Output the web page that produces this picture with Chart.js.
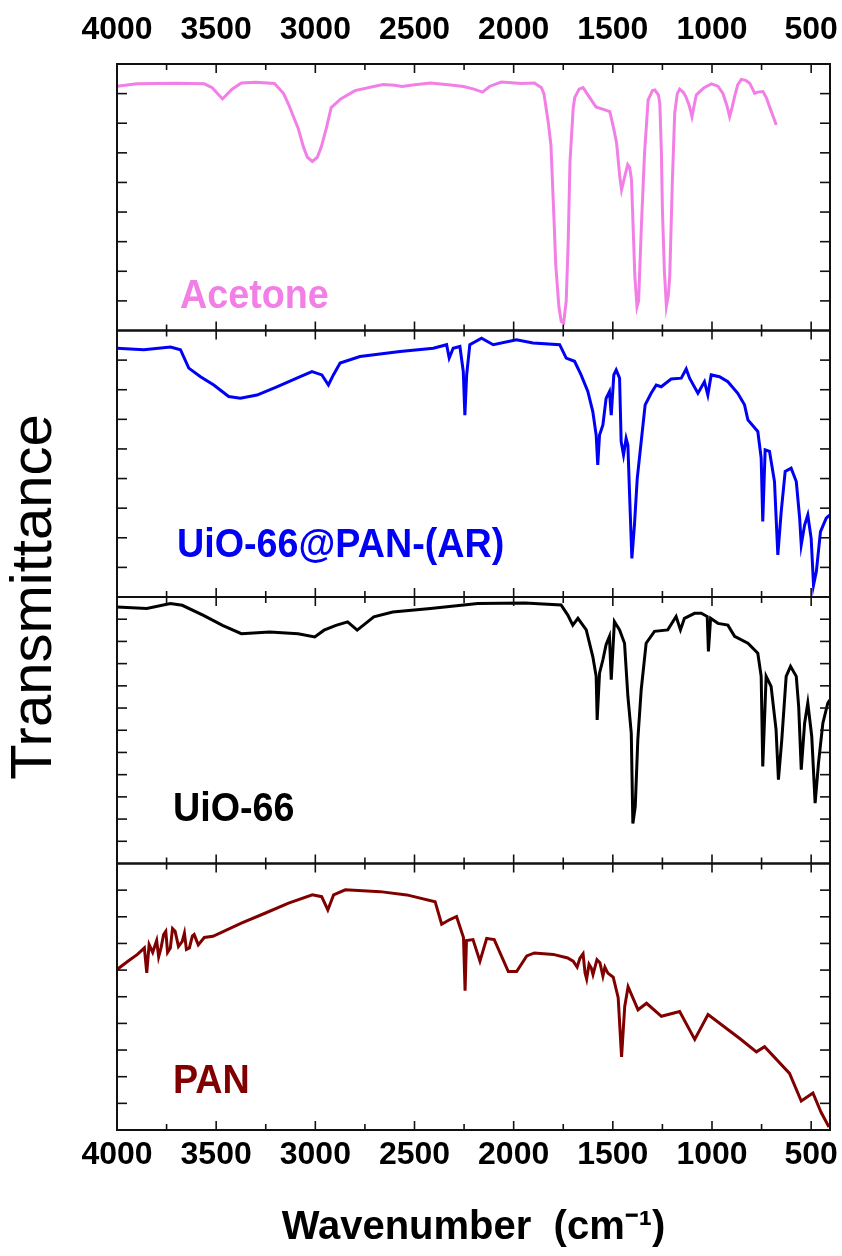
<!DOCTYPE html>
<html>
<head>
<meta charset="utf-8">
<title>FTIR spectra</title>
<script src="https://cdn.jsdelivr.net/npm/chart.js@4.4.1/dist/chart.umd.min.js"></script>
<style>
  html, body { margin: 0; padding: 0; background: #fff; }
  #wrap { width: 842px; height: 1256px; }
</style>
</head>
<body>
<div id="wrap"><canvas id="ftir" width="842" height="1256"></canvas></div>
<script>
// Axis values
const xTickLabels = [4000, 3500, 3000, 2500, 2000, 1500, 1000, 500];
const xMax = 4000;
const xMin = 405;

// Panel names, top to bottom
const panelNames = ['Acetone', 'UiO-66@PAN-(AR)', 'UiO-66', 'PAN'];

// Acetone spectrum (wavenumber, transmittance in panel units)
const wnAcetone = [
  4000, 3900, 3700, 3560, 3520, 3468, 3420, 3373, 3300, 3206,
  3160, 3135, 3100, 3087, 3060, 3040, 3015, 2990, 2970, 2944,
  2920, 2872, 2800, 2700, 2658, 2600, 2562, 2500, 2419, 2330,
  2253, 2200, 2157, 2120, 2062, 1960, 1895, 1860, 1847, 1825,
  1812, 1795, 1788, 1772, 1760, 1748, 1735, 1725, 1716, 1700,
  1692, 1670, 1650, 1620, 1585, 1540, 1515, 1495, 1481, 1465,
  1456, 1440, 1425, 1415, 1406, 1395, 1389, 1378, 1370, 1356,
  1340, 1322, 1300, 1288, 1270, 1263, 1255, 1250, 1240, 1230,
  1220, 1213, 1200, 1188, 1175, 1163, 1145, 1132, 1115, 1101,
  1090, 1079, 1040, 1003, 970, 945, 925, 911, 898, 886,
  870, 852, 830, 810, 795, 785, 770, 743, 725, 710,
  690, 676
];
const tAcetone = [
  82.5, 83.3, 83.5, 83.3, 82, 78.2, 81.5, 83.6, 83.8, 83.4,
  80, 76.4, 70.5, 68.4, 62, 58.5, 57.1, 58.5, 62, 68.4,
  75.3, 78.2, 81, 82.5, 83.1, 82.8, 82.4, 83, 83.6, 83,
  82.4, 81.5, 80.5, 82.5, 83.9, 83.4, 83.6, 82, 79.9, 70,
  62.6, 35, 22.4, 8, 3, 2.5, 10, 30, 56.9, 75,
  78.7, 81.5, 82, 79, 75.5, 74.5, 73.9, 68, 63.3, 52,
  47.5, 52, 56, 55, 50.9, 30, 18.3, 8, 10, 35.2,
  60, 77.9, 81, 81.2, 79.5, 76.7, 60, 40.8, 20, 8.2,
  12, 18.3, 50, 73.4, 80, 81.5, 80.5, 79, 76, 72.2,
  76, 79.6, 82, 83.3, 82.5, 80.1, 76, 72.2, 75.5, 79,
  83, 84.8, 84.5, 83.5, 81.5, 80.1, 80.5, 80.7, 78.5, 75.6,
  72, 69.4
];

// UiO-66@PAN-(AR) spectrum
const wnUiOPAN = [
  4000, 3865, 3730, 3680, 3638, 3579, 3512, 3437, 3378, 3294,
  3194, 3076, 3017, 2967, 2934, 2909, 2875, 2775, 2573, 2405,
  2338, 2325, 2305, 2271, 2254, 2246, 2237, 2221, 2162, 2103,
  1986, 1902, 1768, 1735, 1693, 1660, 1626, 1601, 1584, 1576,
  1567, 1550, 1534, 1517, 1508, 1495, 1483, 1466, 1458, 1446,
  1433, 1424, 1416, 1404, 1391, 1377, 1357, 1337, 1307, 1281,
  1256, 1206, 1155, 1130, 1113, 1071, 1038, 1021, 1004, 962,
  920, 870, 836, 819, 769, 752, 744, 732, 710, 685,
  668, 651, 631, 601, 575, 558, 550, 533, 517, 500,
  488, 474, 453, 424, 407
];
const tUiOPAN = [
  84, 83.5, 84.4, 83.5, 77.3, 74.4, 71.6, 67.7, 67.1, 68.2,
  71, 74.4, 76.1, 75, 71.6, 75, 79, 81.2, 82.9, 84,
  85.2, 80.7, 84, 84.6, 76.1, 61.4, 75, 85.2, 87.4, 85.2,
  86.9, 85.8, 85.2, 80.7, 79.6, 75, 69.4, 62.6, 54.7, 44.6,
  54.7, 58.1, 67.1, 69.4, 61.4, 75, 76.7, 73.9, 52.5, 48,
  53.6, 51.3, 35.5, 13, 24.3, 40, 52.5, 64.9, 68.8, 71.6,
  71, 73.6, 73.9, 77, 73.9, 68.8, 72.7, 68.2, 75, 74.4,
  72.7, 68.8, 64.9, 59.8, 55.9, 46.9, 25.5, 49.7, 49.2, 39,
  14.2, 28.8, 42.4, 43.5, 39, 26.6, 17.6, 24.3, 27.7, 19.8,
  4, 8.5, 22.1, 26.6, 27.7
];

// UiO-66 spectrum
const wnUiO = [
  4000, 3850, 3731, 3671, 3564, 3468, 3373, 3230, 3087, 3003,
  2956, 2896, 2837, 2789, 2705, 2610, 2419, 2181, 1943, 1761,
  1727, 1702, 1676, 1634, 1601, 1584, 1579, 1567, 1550, 1534,
  1517, 1508, 1492, 1466, 1441, 1424, 1407, 1399, 1387, 1374,
  1357, 1332, 1290, 1223, 1181, 1159, 1139, 1088, 1054, 1024,
  1018, 1007, 970, 920, 886, 819, 769, 752, 744, 727,
  702, 677, 665, 648, 626, 604, 575, 563, 550, 533,
  517, 497, 480, 463, 441, 416, 405
];
const tUiO = [
  86.6, 86.1, 87.8, 87.2, 83.8, 80.4, 77.6, 78.2, 77.6, 76.5,
  78.8, 80.4, 81.6, 78.8, 83.3, 84.9, 86.1, 87.8, 88, 87.3,
  83.9, 80.5, 82.8, 78.9, 69.9, 63.2, 48.5, 64.3, 68.8, 73.9,
  76.7, 62.1, 81.7, 78.9, 74.4, 56.4, 44, 13.5, 19.2, 41.8,
  58.6, 74.4, 78.4, 78.9, 83.4, 78.9, 82.8, 84.5, 84.5, 83.4,
  71.6, 82.8, 81.1, 80.5, 76.7, 74.4, 71, 63.2, 32.8, 63.2,
  59.8, 45.2, 28.3, 41.8, 63.2, 66.6, 63.2, 53.1, 31.7, 47.4,
  54.2, 42.9, 20.4, 33.9, 47.4, 54.2, 55.3
];

// PAN spectrum
const wnPAN = [
  4000, 3945, 3897, 3862, 3850, 3838, 3820, 3800, 3790, 3778,
  3765, 3754, 3745, 3731, 3720, 3707, 3690, 3671, 3660, 3650,
  3635, 3620, 3611, 3590, 3560, 3516, 3373, 3254, 3135, 3015,
  2968, 2937, 2908, 2849, 2673, 2539, 2396, 2363, 2324, 2288,
  2253, 2245, 2238, 2205, 2170, 2136, 2098, 2027, 1985, 1934,
  1895, 1800, 1728, 1700, 1680, 1666, 1650, 1640, 1632, 1620,
  1609, 1600, 1580, 1565, 1550, 1540, 1525, 1498, 1473, 1456,
  1440, 1423, 1373, 1330, 1255, 1163, 1087, 1020, 860, 776,
  735, 609, 550, 491, 450, 410
];
const tPAN = [
  54.2, 57, 59.3, 61.5, 53.1, 62.6, 60, 64, 58.5, 61.5,
  66, 67.1, 60, 61.5, 68, 67.1, 62, 63.7, 66.5, 61,
  61.5, 65.5, 66, 62.5, 65, 65.4, 69.9, 73.2, 76.6, 79.4,
  78.8, 74.3, 79.4, 81.1, 80.5, 79.4, 77.1, 69.5, 71, 72.1,
  65, 47, 64, 64.3, 57, 64.7, 64.3, 53.5, 53.5, 58.8,
  59.8, 59.3, 58.1, 57, 55, 58, 59.5, 53, 51, 56,
  54.8, 52.5, 57.5, 56.5, 52, 55, 53, 51.6, 44.7, 24.7,
  41.7, 48.4, 40.6, 42.8, 38.4, 40, 30.6, 39, 30.9, 26.4,
  28.1, 19.1, 9.8, 12.5, 6, 1
];

// styling per panel (top to bottom)
const panelAxes = ['yAcetone', 'yUiOPAN', 'yUiO', 'yPAN'];
const panelColors = ['#F27FE6', '#0000F5', '#000000', '#800000'];
const panelTickStep = [10, 10, 7.5, 9];
const labelX = [180, 177, 173, 173];
const labelLift = [23, 40, 43, 37];

const FONT = '"Liberation Sans", Arial, Helvetica, sans-serif';

function toPoints(wn, t) {
  return wn.map((x, i) => ({ x: x, y: t[i] }));
}

const seriesData = [
  toPoints(wnAcetone, tAcetone),
  toPoints(wnUiOPAN, tUiOPAN),
  toPoints(wnUiO, tUiO),
  toPoints(wnPAN, tPAN)
];

const datasets = panelNames.map((name, i) => ({
  label: name,
  data: seriesData[i],
  xAxisID: 'x',
  yAxisID: panelAxes[i],
  borderColor: panelColors[i],
  borderWidth: 3,
  pointRadius: 0,
  tension: 0,
  fill: false
}));

function setXTicks(scale) {
  scale.ticks = xTickLabels.map(v => ({ value: v }));
}

function panelAxis(i) {
  return {
    type: 'linear',
    position: 'left',
    stack: 'ftir',
    stackWeight: 1,
    min: 0,
    max: 90,
    ticks: { display: false, stepSize: panelTickStep[i] },
    grid: { display: false, drawTicks: false },
    border: { display: false },
    afterFit: s => { s.width = 0; }
  };
}

// frames, inward ticks and panel names
const panelPlugin = {
  id: 'panelFrames',
  afterDraw(chart) {
    const ctx = chart.ctx;
    const { left, right } = chart.chartArea;
    const xs = chart.scales.x;
    const line = (x1, y1, x2, y2) => {
      ctx.beginPath();
      ctx.moveTo(x1, y1);
      ctx.lineTo(x2, y2);
      ctx.stroke();
    };
    ctx.save();
    panelAxes.forEach((id, i) => {
      const ys = chart.scales[id];
      const top = ys.top, bottom = ys.bottom;
      ctx.strokeStyle = '#111';
      ctx.lineWidth = 2;
      ctx.strokeRect(left, top, right - left, bottom - top);
      ctx.lineWidth = 1.6;
      for (let v = 500; v < xMax; v += 250) {
        const px = xs.getPixelForValue(v);
        const len = v % 500 === 0 ? 9 : 6;
        line(px, top, px, top + len);
        line(px, bottom, px, bottom - len);
      }
      ys.ticks.forEach(t => {
        if (t.value <= ys.min || t.value >= ys.max) return;
        const py = ys.getPixelForValue(t.value);
        line(left, py, left + 10, py);
        line(right, py, right - 10, py);
      });
      ctx.save();
      ctx.fillStyle = panelColors[i];
      ctx.font = 'bold 41px ' + FONT;
      ctx.textBaseline = 'alphabetic';
      ctx.textAlign = 'left';
      ctx.translate(labelX[i], bottom - labelLift[i]);
      ctx.scale(0.92, 1);
      ctx.fillText(panelNames[i], 0, 0);
      ctx.restore();
    });
    ctx.restore();
  }
};

const tickFont = { family: FONT, size: 32, weight: 'bold' };
const plainLabel = v => String(v);

new Chart(document.getElementById('ftir'), {
  type: 'line',
  data: { datasets: datasets },
  options: {
    responsive: false,
    animation: false,
    events: [],
    layout: { padding: { left: 0, right: 12, top: 0, bottom: 0 } },
    plugins: { legend: { display: false }, tooltip: { enabled: false } },
    scales: {
      x: {
        type: 'linear',
        position: 'bottom',
        reverse: true,
        min: xMin,
        max: xMax,
        afterBuildTicks: setXTicks,
        grid: { display: false, drawTicks: false },
        border: { display: false },
        ticks: { font: tickFont, color: '#000', padding: 6, maxRotation: 0, autoSkip: false, callback: plainLabel },
        title: {
          display: true,
          text: 'Wavenumber  (cm\u207B\u00B9)',
          font: { family: FONT, size: 40, weight: 'bold' },
          color: '#000',
          padding: { top: 0, bottom: 4 }
        },
        afterFit: s => { s.height = 126; s.paddingLeft = 0; s.paddingRight = 0; }
      },
      xTop: {
        type: 'linear',
        position: 'top',
        reverse: true,
        min: xMin,
        max: xMax,
        afterBuildTicks: setXTicks,
        grid: { display: false, drawTicks: false },
        border: { display: false },
        ticks: { font: tickFont, color: '#000', padding: 15, maxRotation: 0, autoSkip: false, callback: plainLabel },
        afterFit: s => { s.height = 64; s.paddingLeft = 0; s.paddingRight = 0; }
      },
      yPAN: panelAxis(3),
      yUiO: panelAxis(2),
      yUiOPAN: panelAxis(1),
      yAcetone: panelAxis(0),
      yTitle: {
        type: 'linear',
        position: 'left',
        min: 0,
        max: 1,
        ticks: { display: false },
        grid: { display: false, drawTicks: false },
        border: { display: false },
        title: {
          display: true,
          text: 'Transmittance',
          font: { family: FONT, size: 58 },
          color: '#000',
          padding: { top: 0, bottom: 0 }
        },
        afterFit: s => { s.width = 117; }
      }
    }
  },
  plugins: [panelPlugin]
});
</script>
</body>
</html>
